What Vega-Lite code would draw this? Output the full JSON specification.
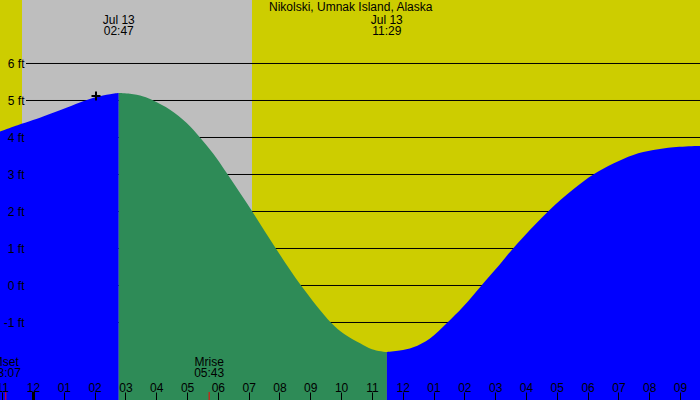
{
  "$schema": "https://vega.github.io/schema/vega-lite/v6.json",
  "width": 700,
  "height": 400,
  "autosize": "none",
  "padding": 0,
  "background": "#cdcd00",
  "config": {
    "view": {"stroke": null},
    "text": {"font": "Liberation Sans", "fontSize": 12, "color": "black"},
    "axis": {"labelFont": "Liberation Sans", "labelFontSize": 12, "labelColor": "black"}
  },
  "datasets": {
    "tide": [
      {"hour": -1.25, "ft": 4.11, "phase": "rise1"},
      {"hour": -0.5, "ft": 4.33, "phase": "rise1"},
      {"hour": 0, "ft": 4.47, "phase": "rise1"},
      {"hour": 1, "ft": 4.78, "phase": "rise1"},
      {"hour": 2, "ft": 5.08, "phase": "rise1"},
      {"hour": 2.5, "ft": 5.17, "phase": "rise1"},
      {"hour": 2.783, "ft": 5.2, "phase": "rise1"},
      {"hour": 2.783, "ft": 5.2, "phase": "fall"},
      {"hour": 3.148, "ft": 5.18, "phase": "fall"},
      {"hour": 3.58, "ft": 5.11, "phase": "fall"},
      {"hour": 3.905, "ft": 5.0, "phase": "fall"},
      {"hour": 4.447, "ft": 4.75, "phase": "fall"},
      {"hour": 4.989, "ft": 4.39, "phase": "fall"},
      {"hour": 5.42, "ft": 4.0, "phase": "fall"},
      {"hour": 5.852, "ft": 3.56, "phase": "fall"},
      {"hour": 6.287, "ft": 3.04, "phase": "fall"},
      {"hour": 7.117, "ft": 2.0, "phase": "fall"},
      {"hour": 7.883, "ft": 1.0, "phase": "fall"},
      {"hour": 8.7, "ft": 0.0, "phase": "fall"},
      {"hour": 9.667, "ft": -1.0, "phase": "fall"},
      {"hour": 10.1, "ft": -1.31, "phase": "fall"},
      {"hour": 10.617, "ft": -1.56, "phase": "fall"},
      {"hour": 11.0, "ft": -1.72, "phase": "fall"},
      {"hour": 11.483, "ft": -1.8, "phase": "fall"},
      {"hour": 11.483, "ft": -1.8, "phase": "rise2"},
      {"hour": 11.9, "ft": -1.76, "phase": "rise2"},
      {"hour": 12.343, "ft": -1.67, "phase": "rise2"},
      {"hour": 12.885, "ft": -1.43, "phase": "rise2"},
      {"hour": 13.427, "ft": -1.02, "phase": "rise2"},
      {"hour": 13.966, "ft": -0.57, "phase": "rise2"},
      {"hour": 14.563, "ft": 0.01, "phase": "rise2"},
      {"hour": 15.05, "ft": 0.47, "phase": "rise2"},
      {"hour": 15.589, "ft": 1.01, "phase": "rise2"},
      {"hour": 16.717, "ft": 2.0, "phase": "rise2"},
      {"hour": 17.537, "ft": 2.6, "phase": "rise2"},
      {"hour": 18.186, "ft": 3.0, "phase": "rise2"},
      {"hour": 18.835, "ft": 3.3, "phase": "rise2"},
      {"hour": 19.484, "ft": 3.53, "phase": "rise2"},
      {"hour": 20.133, "ft": 3.66, "phase": "rise2"},
      {"hour": 20.782, "ft": 3.735, "phase": "rise2"},
      {"hour": 21.542, "ft": 3.77, "phase": "rise2"},
      {"hour": 21.8, "ft": 3.775, "phase": "rise2"}
    ],
    "night": [
      {"start": -0.357, "end": 7.108}
    ],
    "levels": [
      {"ft": -1}, {"ft": 0}, {"ft": 1}, {"ft": 2}, {"ft": 3}, {"ft": 4}, {"ft": 5}, {"ft": 6}
    ],
    "tideEvents": [
      {"hour": 2.783, "date": "Jul 13", "clock": "02:47"},
      {"hour": 11.483, "date": "Jul 13", "clock": "11:29"}
    ],
    "moon": [
      {"hour": -0.883, "name": "Mset", "clock": "23:07"},
      {"hour": 5.717, "name": "Mrise", "clock": "05:43"}
    ],
    "marker": [
      {"hour": 2.045, "ft": 5.12}
    ],
    "titleRow": [
      {"hour": 10.312, "title": "Nikolski, Umnak Island, Alaska"}
    ]
  },
  "layer": [
    {
      "data": {"name": "night"},
      "mark": {"type": "rect", "color": "#bebebe"},
      "encoding": {
        "x": {"field": "start", "type": "quantitative", "title": null,
          "scale": {"domain": [-1.0711, 21.6488], "nice": false, "zero": false}},
        "x2": {"field": "end"}
      }
    },
    {
      "data": {"name": "levels"},
      "mark": {"type": "rule", "color": "black", "strokeWidth": 1},
      "encoding": {
        "y": {"field": "ft", "type": "quantitative", "title": null},
        "x": {"datum": -0.227},
        "x2": {"datum": 21.6488}
      }
    },
    {
      "data": {"name": "tide"},
      "mark": {"type": "area", "interpolate": "catmull-rom", "clip": true},
      "encoding": {
        "x": {"field": "hour", "type": "quantitative",
          "scale": {"domain": [-1.0711, 21.6488], "nice": false, "zero": false},
          "axis": {"orient": "top", "offset": -400, "title": null, "domain": false, "grid": false,
            "values": [-1, 0, 1, 2, 3, 4, 5, 6, 7, 8, 9, 10, 11, 12, 13, 14, 15, 16, 17, 18, 19, 20, 21],
            "tickCount": 40,
            "tickSize": 8, "tickColor": "black", "tickWidth": 1,
            "labelPadding": 1, "labelBaseline": "alphabetic",
            "labelExpr": "(((datum.value % 12) + 12) % 12 === 0) ? '12' : ((((datum.value % 12) + 12) % 12 < 10 ? '0' : '') + (((datum.value % 12) + 12) % 12))",
            "labelOverlap": false, "labelFlush": false, "zindex": 2}},
        "y": {"field": "ft", "type": "quantitative", "stack": null,
          "scale": {"domain": [-3.0946, 7.7162], "nice": false, "zero": false},
          "axis": {"orient": "left", "offset": -26, "title": null, "domain": false, "ticks": false, "grid": false,
            "values": [-1, 0, 1, 2, 3, 4, 5, 6], "tickCount": 20, "labelExpr": "datum.value + ' ft'", "labelPadding": 2, "zindex": 2}},
        "y2": {"datum": -4},
        "color": {"field": "phase", "type": "nominal",
          "scale": {"domain": ["rise1", "fall", "rise2"], "range": ["#0000ff", "#2e8b57", "#0000ff"]}, "legend": null}
      }
    },
    {
      "data": {"name": "marker"},
      "mark": {"type": "point", "shape": "M-1,0L1,0M0,-1L0,1", "size": 81, "filled": false, "stroke": "black", "strokeWidth": 2, "opacity": 1},
      "encoding": {
        "x": {"field": "hour", "type": "quantitative", "title": null},
        "y": {"field": "ft", "type": "quantitative", "title": null}
      }
    },
    {
      "data": {"name": "titleRow"},
      "mark": {"type": "text", "align": "center", "baseline": "middle"},
      "encoding": {
        "x": {"field": "hour", "type": "quantitative", "title": null},
        "y": {"datum": 7.514},
        "text": {"field": "title"}
      }
    },
    {
      "data": {"name": "tideEvents"},
      "mark": {"type": "text", "align": "center", "baseline": "middle"},
      "encoding": {
        "x": {"field": "hour", "type": "quantitative", "title": null},
        "y": {"datum": 7.189},
        "text": {"field": "date"}
      }
    },
    {
      "data": {"name": "tideEvents"},
      "mark": {"type": "text", "align": "center", "baseline": "middle"},
      "encoding": {
        "x": {"field": "hour", "type": "quantitative", "title": null},
        "y": {"datum": 6.873},
        "text": {"field": "clock"}
      }
    },
    {
      "data": {"name": "moon"},
      "mark": {"type": "text", "align": "center", "baseline": "middle"},
      "encoding": {
        "x": {"field": "hour", "type": "quantitative", "title": null},
        "y": {"datum": -2.059},
        "text": {"field": "name"}
      }
    },
    {
      "data": {"name": "moon"},
      "mark": {"type": "text", "align": "center", "baseline": "middle"},
      "encoding": {
        "x": {"field": "hour", "type": "quantitative", "title": null},
        "y": {"datum": -2.373},
        "text": {"field": "clock"}
      }
    },
    {
      "data": {"name": "moon"},
      "mark": {"type": "rule", "color": "red", "strokeWidth": 1},
      "encoding": {
        "x": {"field": "hour", "type": "quantitative", "title": null},
        "y": {"datum": -3.0946},
        "y2": {"datum": -2.878}
      }
    },
    {
      "data": {"name": "marker"},
      "mark": {"type": "rule", "color": "black", "strokeWidth": 3},
      "encoding": {
        "x": {"datum": 0.016},
        "y": {"datum": -3.0946},
        "y2": {"datum": -2.878}
      }
    }
  ]
}
